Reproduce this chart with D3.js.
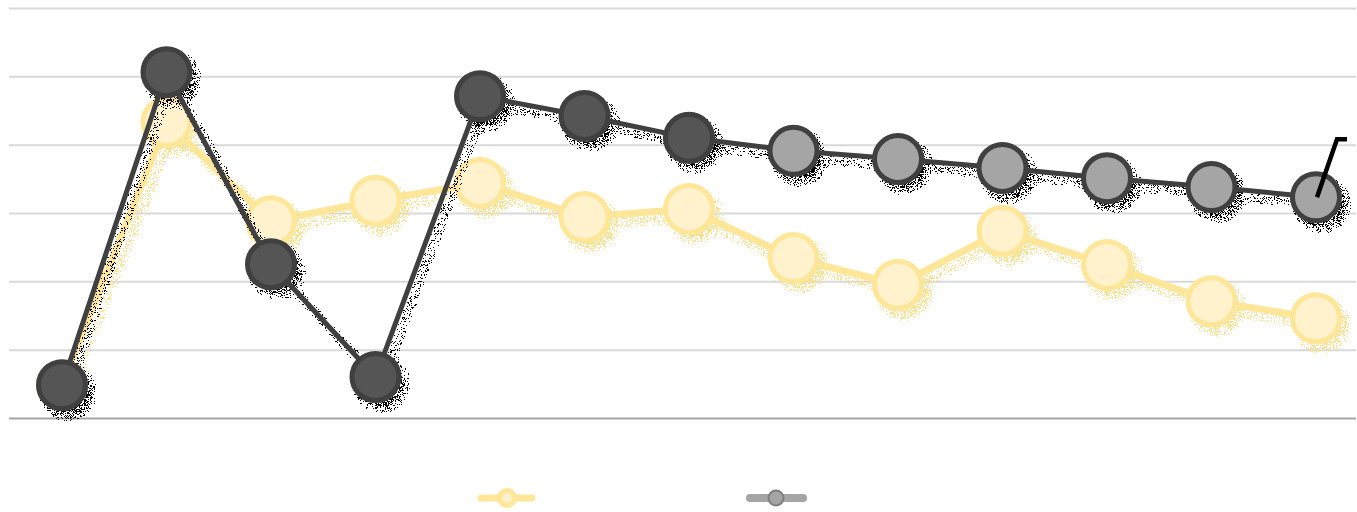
<!doctype html>
<html>
<head>
<style>
    body { margin: 0; background: #fff; }
    svg { display: block; }
</style>
<script src="https://d3js.org/d3.v7.min.js"></script>
</head>
<body>

    <svg id="chart" width="1357" height="512"></svg>

    <script>

        // Data
        var categories = ["1", "2", "3", "4", "5", "6", "7", "8", "9", "10", "11", "12", "13"];
        var seriesA = [4.8, 43.3, 28.8, 31.8, 34.4, 29.4, 30.6, 23.4, 19.5, 27.4, 22.4, 17.1, 14.6];
        var seriesB = [4.8, 50.6, 22.5, 6.0, 47.1, 44.2, 41.0, 39.1, 37.9, 36.6, 35.1, 33.8, 32.3];
        var forecastFrom = 7; // from this index the markers of seriesB are light gray
        var yTicks = [0, 10, 20, 30, 40, 50, 60];

        var svg = d3.select("svg");

        var x = d3.scalePoint().domain(categories).range([62, 1316]);
        var y = d3.scaleLinear().domain([0, 60]).range([418, 8]);

        // dithered drop shadow filters
        var defs = svg.append("defs");
        function shadowFilter(id, color) {
            var f = defs.append("filter").attr("id", id)
                .attr("x", "-20%").attr("y", "-20%").attr("width", "140%").attr("height", "140%");
            f.append("feOffset").attr("in", "SourceAlpha").attr("dx", 6).attr("dy", 7).attr("result", "off");
            f.append("feGaussianBlur").attr("in", "off").attr("stdDeviation", 5).attr("result", "blur");
            f.append("feTurbulence").attr("type", "fractalNoise").attr("baseFrequency", 1.7)
                .attr("numOctaves", 1).attr("seed", 3).attr("result", "noise");
            f.append("feColorMatrix").attr("in", "noise").attr("type", "matrix")
                .attr("values", "0 0 0 0 0  0 0 0 0 0  0 0 0 0 0  0 0 0 4 -1.5").attr("result", "noiseA");
            f.append("feComposite").attr("in", "blur").attr("in2", "noiseA").attr("operator", "arithmetic")
                .attr("k1", 0).attr("k2", 0.85).attr("k3", -1).attr("k4", 0.3).attr("result", "mix");
            var ct = f.append("feComponentTransfer").attr("in", "mix").attr("result", "mask");
            ct.append("feFuncA").attr("type", "discrete").attr("tableValues", "0 1");
            f.append("feFlood").attr("flood-color", color).attr("result", "col");
            f.append("feComposite").attr("in", "col").attr("in2", "mask").attr("operator", "in").attr("result", "shadow");
            var m = f.append("feMerge");
            m.append("feMergeNode").attr("in", "shadow");
            m.append("feMergeNode").attr("in", "SourceGraphic");
        }
        shadowFilter("shadowA", "#ffe18a");
        shadowFilter("shadowB", "#000000");

        // Gridlines
        svg.append("g")
            .attr("transform", "translate(9,0)")
            .call(d3.axisLeft(y).tickValues(yTicks).tickSize(-1347).tickFormat(""))
            .call(function (g) { g.select(".domain").remove(); })
            .selectAll(".tick line")
              .attr("stroke", function (d) { return d === 0 ? "#a6a6a6" : "#d9d9d9"; })
              .attr("stroke-width", 2);

        var line = d3.line()
            .x(function (d, i) { return x(categories[i]); })
            .y(function (d) { return y(d); });

        // Series A (yellow)
        var gA = svg.append("g").attr("filter", "url(#shadowA)");
        gA.append("path")
            .datum(seriesA)
            .attr("d", line)
            .attr("fill", "none")
            .attr("stroke", "#ffe699")
            .attr("stroke-width", 7)
            .attr("stroke-linejoin", "round");
        gA.selectAll("circle")
            .data(seriesA)
            .enter()
            .append("circle")
              .attr("cx", function (d, i) { return x(categories[i]); })
              .attr("cy", function (d) { return y(d); })
              .attr("r", 23.5)
              .attr("fill", "#fff2cc")
              .attr("stroke", "#ffe699")
              .attr("stroke-width", 5);

        // Series B (dark, then gray)
        var gB = svg.append("g").attr("filter", "url(#shadowB)");
        gB.append("path")
            .datum(seriesB)
            .attr("d", line)
            .attr("fill", "none")
            .attr("stroke", "#404040")
            .attr("stroke-width", 5)
            .attr("stroke-linejoin", "round");
        gB.selectAll("circle")
            .data(seriesB)
            .enter()
            .append("circle")
              .attr("cx", function (d, i) { return x(categories[i]); })
              .attr("cy", function (d) { return y(d); })
              .attr("r", 23.5)
              .attr("fill", function (d, i) { return i >= forecastFrom ? "#a5a5a5" : "#555555"; })
              .attr("stroke", "#404040")
              .attr("stroke-width", 5);

        // trend tick at the last point
        var last = categories.length - 1;
        var lx = x(categories[last]), ly = y(seriesB[last]);
        svg.append("path")
            .attr("d", "M" + (lx + 1) + "," + ly + "L" + (lx + 21) + "," + (ly - 58) + "H" + (lx + 31))
            .attr("fill", "none")
            .attr("stroke", "#000")
            .attr("stroke-width", 4.5);

        // Legend
        var legend = svg.append("g").attr("transform", "translate(0,498)");
        legend.append("line").attr("x1", 481).attr("x2", 532)
            .attr("stroke", "#ffe699").attr("stroke-width", 7).attr("stroke-linecap", "round");
        legend.append("circle").attr("cx", 507).attr("r", 7.5)
            .attr("fill", "#fff2cc").attr("stroke", "#ffe699").attr("stroke-width", 5);
        legend.append("line").attr("x1", 750).attr("x2", 803)
            .attr("stroke", "#a5a5a5").attr("stroke-width", 8).attr("stroke-linecap", "round");
        legend.append("circle").attr("cx", 776).attr("r", 7.5)
            .attr("fill", "#a5a5a5").attr("stroke", "#7f7f7f").attr("stroke-width", 2);

    </script>

</body>
</html>
